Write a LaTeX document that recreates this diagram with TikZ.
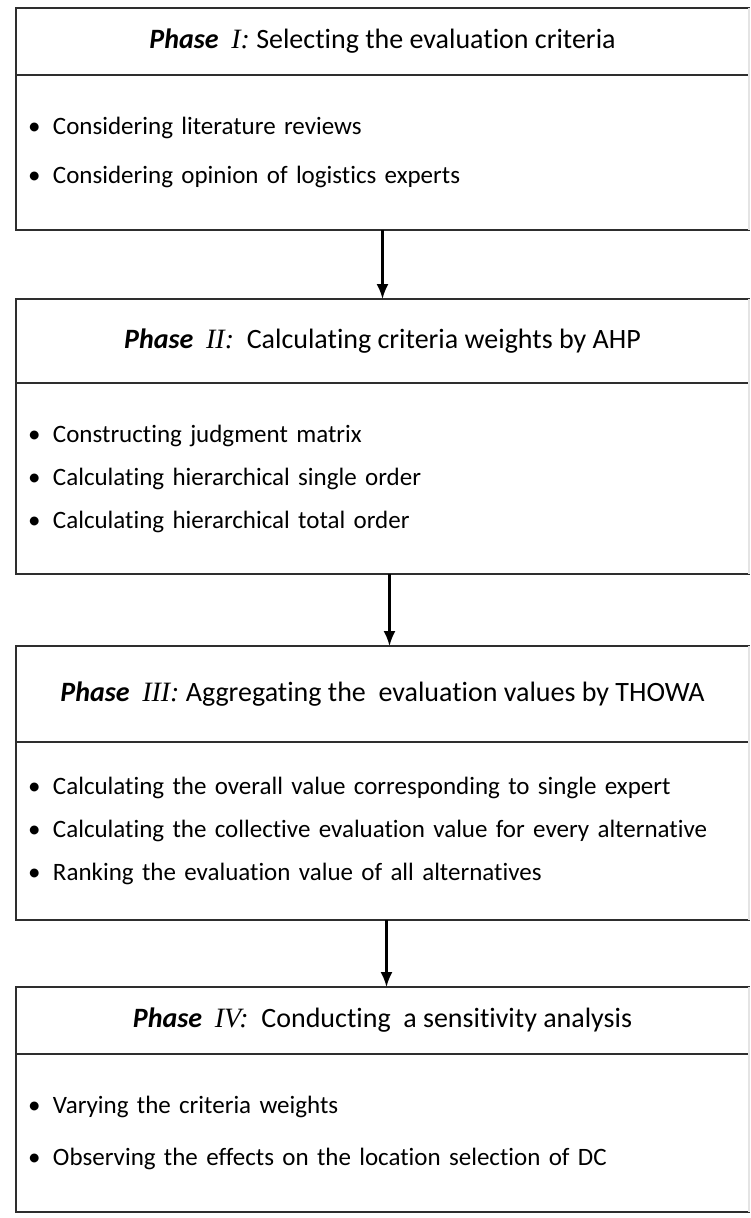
\documentclass[tikz,border=0pt]{standalone}
\usepackage{fontspec}
\setmainfont{Carlito}[Ligatures=NoCommon]
\newfontfamily\numfont{Liberation Serif}
\usetikzlibrary{positioning,arrows.meta}

\definecolor{boxline}{HTML}{2E2E2E}
\definecolor{edgegray}{HTML}{E4E4E4}

\tikzset{
  phasetitle/.style={draw=boxline, line width=1.6pt, minimum width=733pt,
    inner sep=0pt, outer sep=0pt, font=\fontsize{28}{32}\selectfont},
  phasebody/.style={draw=boxline, line width=1.6pt, text width=709pt,
    inner xsep=12pt, inner ysep=0pt, outer sep=0pt, align=left,
    font=\fontsize{25}{#1}\selectfont},
  flow/.style={-{Latex[length=15pt,width=12pt]}, line width=2.2pt}
}
\newcommand{\phasehead}[1]{\textbf{\textit{Phase}}\ \ {\numfont\itshape #1:}}
\newcommand{\pitem}{\makebox[25pt][l]{\textbullet}}

\begin{document}
\begin{tikzpicture}[x=1pt, y=-1pt]
  \useasboundingbox (0,0) rectangle (751,1218);
  % phase I
  \node (t1) [phasetitle, minimum height=67pt, anchor=north west] at (16,8)
    {\phasehead{I}\ Selecting the evaluation criteria};
  \node (b1) [phasebody=49pt, minimum height=155pt, below=0pt of t1]
    {\pitem Considering literature reviews\\
     \pitem Considering opinion of logistics experts};
  % phase II
  \node (t2) [phasetitle, minimum height=84pt, below=69pt of b1]
    {\phasehead{II}\ \ Calculating criteria weights by AHP};
  \node (b2) [phasebody=43pt, minimum height=191pt, below=0pt of t2]
    {\pitem Constructing judgment matrix\\
     \pitem Calculating hierarchical single order\\
     \pitem Calculating hierarchical total order};
  % phase III
  \node (t3) [phasetitle, minimum height=96pt, below=72pt of b2]
    {\phasehead{III}\ Aggregating the\ \ evaluation values by THOWA};
  \node (b3) [phasebody=43pt, minimum height=178pt, below=0pt of t3]
    {\pitem Calculating the overall value corresponding to single expert\\
     \pitem Calculating the collective evaluation value for every alternative\\
     \pitem Ranking the evaluation value of all alternatives};
  % phase IV
  \node (t4) [phasetitle, minimum height=67pt, below=67pt of b3]
    {\phasehead{IV}\ \ Conducting\ \ a sensitivity analysis};
  \node (b4) [phasebody=52pt, minimum height=158pt, below=0pt of t4]
    {\pitem Varying the criteria weights\\
     \pitem Observing the effects on the location selection of DC};
  % faint right edges
  \foreach \i in {1,2,3,4}
    \draw[edgegray, line width=1.6pt] (t\i.north east) -- (b\i.south east);
  % arrows
  \draw[flow] (b1.south) -- (t2.north);
  \draw[flow] ([xshift=7pt]b2.south) -- ([xshift=7pt]t3.north);
  \draw[flow] ([xshift=4pt]b3.south) -- ([xshift=4pt]t4.north);
\end{tikzpicture}
\end{document}
